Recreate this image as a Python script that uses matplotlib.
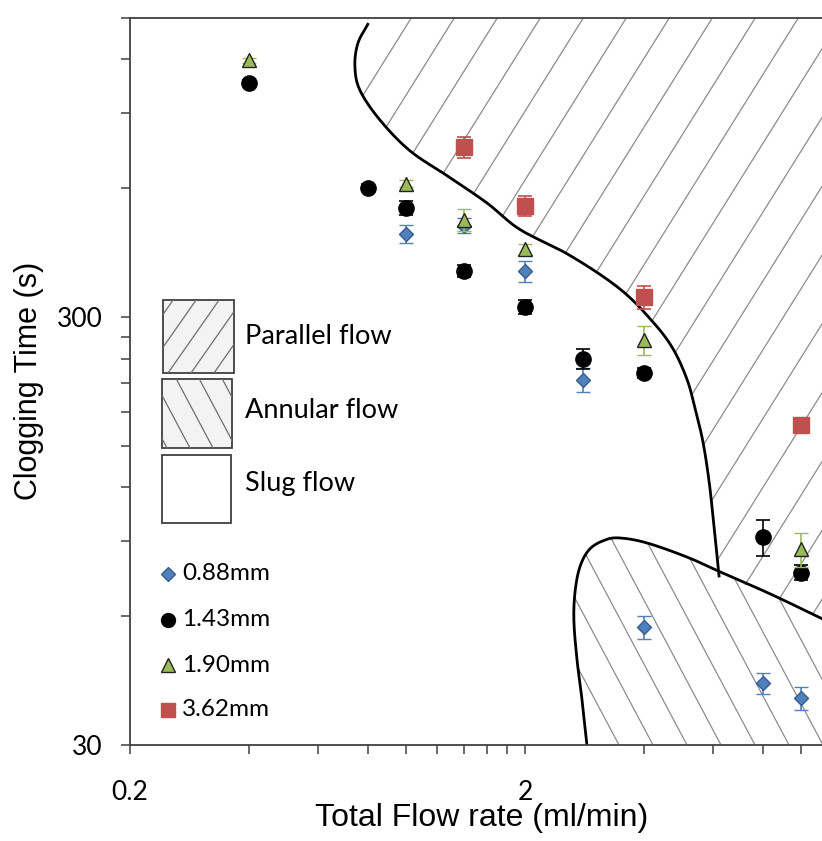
import numpy as np
import matplotlib.pyplot as plt
from matplotlib.patches import Polygon, Rectangle
from matplotlib.collections import LineCollection
from matplotlib.ticker import NullFormatter

plt.rcParams['font.family'] = ['Lato', 'DejaVu Sans']

# clogging time (s) vs total flow rate (ml/min), one series per channel size
x_088 = [1.0, 1.4, 2.0, 2.8, 4.0, 8.0, 10.0]
t_088 = [470, 491, 384, 214, 56.7, 41.8, 38.6]
e_088 = [22, 20, 21, 14, 3.5, 2.4, 2.3]

x_143 = [0.4, 0.8, 1.0, 1.4, 2.0, 2.8, 4.0, 8.0, 10.0]
t_143 = [1057, 602, 541, 384, 317, 240, 222, 91.8, 75.9]
e_143 = [15, 12, 20, 12, 12, 13, 6, 9, 3]

x_190 = [0.4, 1.0, 1.4, 2.0, 4.0, 10.0]
t_190 = [1194, 615, 507, 432, 265, 86]
e_190 = [15, 12, 30, 12, 21, 8]

x_362 = [1.4, 2.0, 4.0, 10.0]
t_362 = [750, 546, 334, 168]
e_362 = [42, 30, 20, 4]

# flow regime boundaries (parallel / slug and annular / rest)
par_x = [0.80, 0.755, 0.742, 0.764, 0.859, 1.023, 1.27, 1.60, 1.94, 2.60, 3.48,
         4.22, 4.74, 5.14, 5.38, 5.64, 5.85, 6.02, 6.2]
par_t = [1450, 1309, 1157, 1017, 866, 734, 642, 555, 481, 418, 349,
         292, 253, 215, 185, 154, 124, 97.5, 74.5]
ann_x = [2.87, 2.79, 2.71, 2.66, 2.68, 2.76, 2.92, 3.19, 3.48, 4.07, 5.14, 6.23, 8.34, 11.3]
ann_t = [30, 38.2, 47.3, 58.6, 68.8, 78.6, 86.2, 90.4, 91.4, 89, 82.5, 76.2, 67.7, 59.2]

XMIN, XMAX = 0.2, 11.3
YMIN, YMAX = 30, 1500

fig = plt.figure(figsize=(8.22, 8.41), dpi=100)
ax = fig.add_axes([130/822, 96/841, 692/822, 727/841])
ax.set_xscale('log')
ax.set_yscale('log')
ax.set_xlim(XMIN, XMAX)
ax.set_ylim(YMIN, YMAX)

pos = ax.get_position()
W = pos.width * fig.get_figwidth() * fig.dpi
H = pos.height * fig.get_figheight() * fig.dpi


def frac(px, py):
    # pixel position in the picture -> axes fraction
    return (px - 130) / W, (745 - py) / H


def smooth(xs, ys, n=12):
    # catmull-rom through the boundary points, in log space
    p = np.column_stack([np.log10(xs), np.log10(ys)])
    p = np.vstack([2 * p[0] - p[1], p, 2 * p[-1] - p[-2]])
    out = []
    for i in range(1, len(p) - 2):
        p0, p1, p2, p3 = p[i - 1], p[i], p[i + 1], p[i + 2]
        for t in np.linspace(0, 1, n, endpoint=False):
            out.append(0.5 * (2 * p1 + (p2 - p0) * t + (2 * p0 - 5 * p1 + 4 * p2 - p3) * t ** 2
                              + (-p0 + 3 * p1 - 3 * p2 + p3) * t ** 3))
    out.append(p[-2])
    out = 10 ** np.array(out)
    return out[:, 0], out[:, 1]


def hatch(clip, angle, step, anchor, color='#8c8c8c', lw=0.9, z=1):
    a = np.radians(angle)
    d = np.array([np.cos(a), np.sin(a)])
    n = np.array([-np.sin(a), np.cos(a)])
    gap = step * abs(np.sin(a))
    L = 3 * (W + H)
    segs = []
    for k in range(-60, 61):
        p = np.array(anchor) + n * k * gap
        segs.append(np.array([p - d * L, p + d * L]) / [W, H])
    lc = LineCollection(segs, colors=color, linewidths=lw, transform=ax.transAxes, zorder=z)
    ax.add_collection(lc)
    lc.set_clip_path(clip)


px_, pt_ = smooth(par_x, par_t)
ax_, at_ = smooth(ann_x, ann_t)

# regime areas
par_poly = list(zip(px_, pt_)) + list(zip(ann_x[-2:], ann_t[-2:])) + \
    [(XMAX * 2, ann_t[-1]), (XMAX * 2, YMAX * 2), (par_x[0], YMAX * 2)]
ann_poly = list(zip(ax_, at_)) + [(XMAX * 2, ann_t[-1]), (XMAX * 2, YMIN / 2), (ann_x[0], YMIN / 2)]
p_par = Polygon(par_poly, closed=True, fc='none', ec='none')
p_ann = Polygon(ann_poly, closed=True, fc='none', ec='none')
ax.add_patch(p_par)
ax.add_patch(p_ann)
hatch(p_par, 58, 43, (495, 725))
hatch(p_ann, 118, 34, (489, 0))

ax.plot(px_, pt_, color='black', lw=2.0, zorder=2)
ax.plot(ax_, at_, color='black', lw=2.0, zorder=2)

# data
ax.errorbar(x_088, t_088, yerr=e_088, fmt='D', ms=7, mfc='#4F81BD', mec='#385D8A', mew=1,
             ecolor='#4F81BD', elinewidth=1.2, capsize=5, capthick=1.2, zorder=3)
ax.errorbar(x_143, t_143, yerr=e_143, fmt='o', ms=11, mfc='black', mec='black',
             ecolor='black', elinewidth=1.2, capsize=5, capthick=1.2, zorder=4)
ax.errorbar(x_190, t_190, yerr=e_190, fmt='^', ms=10.5, mfc='#9BBB59', mec='#222222', mew=1,
             ecolor='#9BBB59', elinewidth=1.2, capsize=5, capthick=1.2, zorder=5)
ax.errorbar(x_362, t_362, yerr=e_362, fmt='s', ms=11.5, mfc='#C0504D', mec='#C0504D',
             ecolor='#C0504D', elinewidth=1.2, capsize=5, capthick=1.2, zorder=6)

# ticks, Excel style
ax.set_xticks([0.2, 2], labels=['0.2', '2'])
ax.set_xticks([0.4, 0.6, 0.8, 1.0, 1.2, 1.4, 1.6, 1.8, 4, 6, 8, 10], minor=True)
ax.set_yticks([30, 300], labels=['30', '300'])
ax.set_yticks([60, 90, 120, 150, 180, 210, 240, 270, 600, 900, 1200, 1500], minor=True)
ax.xaxis.set_minor_formatter(NullFormatter())
ax.yaxis.set_minor_formatter(NullFormatter())
ax.tick_params(which='both', direction='out', length=6.5, width=1.1, color='#404040', labelsize=19)
ax.tick_params(axis='x', which='major', pad=19)
ax.tick_params(axis='y', which='major', pad=13)

for side in ['left', 'bottom', 'top']:
    ax.spines[side].set_color('#404040')
    ax.spines[side].set_linewidth(1.3)
ax.spines['right'].set_visible(False)

ax.set_xlabel('Total Flow rate (ml/min)', family='Liberation Sans', fontsize=23)
ax.set_ylabel('Clogging Time (s)', family='Liberation Sans', fontsize=22)
ax.xaxis.set_label_coords(*frac(482, 803))
ax.yaxis.set_label_coords(*frac(44, 381))

# regime key
boxes = [('Parallel flow', (163, 373, 71, 73), 55, 337),
         ('Annular flow', (162, 448, 70, 69), 118, 410),
         ('Slug flow', (162, 523, 69, 68), None, 483)]
for name, (bx, by, bw, bh), ang, ty in boxes:
    x0, y0 = frac(bx, by)
    r = Rectangle((x0, y0), bw / W, bh / H, transform=ax.transAxes,
                  fc='#f3f3f3' if ang else 'white', ec='#404040', lw=1.3, zorder=7)
    ax.add_patch(r)
    if ang:
        hatch(r, ang, 23, (bx - 130 + 5, 745 - by), color='#6f6f6f', lw=0.9, z=7.5)
    ax.text(*frac(245, ty), name, transform=ax.transAxes, fontsize=19.5, va='center', ha='left', zorder=8)

# size key
keys = [('0.88mm', 'D', 7, '#4F81BD', '#385D8A', 574),
        ('1.43mm', 'o', 10, 'black', 'black', 620),
        ('1.90mm', '^', 10, '#9BBB59', '#222222', 665),
        ('3.62mm', 's', 10.5, '#C0504D', '#C0504D', 710)]
for lab, m, s, fc, ec, ky in keys:
    ax.plot(*frac(168, ky), marker=m, ms=s, mfc=fc, mec=ec, mew=1, transform=ax.transAxes,
            clip_on=False, zorder=8)
    ax.text(*frac(182, ky), lab, transform=ax.transAxes, fontsize=17.5, va='center', ha='left', zorder=8)

fig.savefig('out.png', dpi=100)
